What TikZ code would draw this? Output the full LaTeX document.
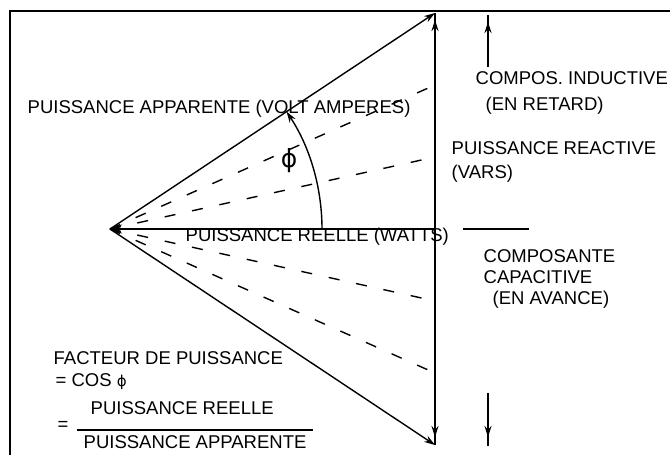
\documentclass[tikz,border=0pt]{standalone}
\usepackage{fontspec}
\setmainfont{Liberation Sans}
\newfontfamily\grk{DejaVu Sans}
\usetikzlibrary{positioning,arrows.meta}

\begin{document}
\begin{tikzpicture}[x=1pt, y=-1pt, line width=1.4pt,
  txt/.style={anchor=west, inner sep=0pt, text height=13.3pt, text depth=0pt,
    font=\fontsize{18.5}{21}\selectfont},
  ray/.style={line width=1.4pt, dash pattern=on 11pt off 17pt},
  tip/.style={-{Stealth[length=11pt,width=7pt]}}]
  \useasboundingbox (0,0) rectangle (670,455);
  \draw[line width=2.6pt] (10,455) -- (10,11) -- (670,11);

  \coordinate (O) at (110,229);
  \coordinate (T) at (435,13);
  \coordinate (B) at (435,445);
  \coordinate (H) at (435,229);
  \coordinate (Tt) at (435,20);
  \coordinate (Bt) at (435,437);

  % triangle des puissances
  \draw[tip] (O) -- (T);
  \draw[tip] (O) -- (B);
  \draw[{Stealth[length=12pt,width=9pt]}-] (O) -- (H);
  \draw (T) -- (B);
  \draw[tip] (H) -- (Tt);
  \draw[tip] (H) -- (Bt);
  \foreach \k in {1,2} {
    \coordinate (u\k) at (435,229-72*\k);
    \coordinate (d\k) at (435,229+72*\k);
    \draw[ray] (O) -- (u\k);
    \draw[ray] (O) -- (d\k);
  }
  \draw[tip] (O) ++(212,0) arc[start angle=0, end angle=-33.6, radius=212];
  \node[font=\grk\fontsize{25}{25}\selectfont] (phi) at (289,161) {ϕ};

  % composantes
  \coordinate (i1) at (488,15);
  \coordinate (i2) at (488,67);
  \coordinate (it) at (488,22);
  \coordinate (c1) at (488,393);
  \coordinate (c2) at (488,446);
  \coordinate (ct) at (488,437);
  \coordinate (s1) at (463,229);
  \coordinate (s2) at (529,229);
  \draw (i1) -- (i2);
  \draw[tip] (i2) -- (it);
  \draw (c1) -- (c2);
  \draw[tip] (c1) -- (ct);
  \draw (s1) -- (s2);

  \node[txt] (app) at (27,107) {PUISSANCE APPARENTE (VOLT AMPERES)};
  \node[txt] (ind) at (475,78) {COMPOS. INDUCTIVE};
  \node[txt] (ret) at (485,104) {(EN RETARD)};
  \node[txt] (reac) at (451,148) {PUISSANCE REACTIVE};
  \node[txt] (vars) [below=8.7pt of reac.south west, anchor=north west] {(VARS)};
  \node[txt] (reel) at (185,235) {PUISSANCE REELLE (WATTS)};
  \node[txt] (compo) at (483,256) {COMPOSANTE};
  \node[txt] (capa) [below=5.7pt of compo.south west, anchor=north west] {CAPACITIVE};
  \node[txt] (av) at (492,298) {(EN AVANCE)};

  % facteur de puissance
  \node[txt] (fact) at (53,358) {FACTEUR DE PUISSANCE};
  \node[txt] (cos) at (55,380) {= COS {\grk\fontsize{15}{15}\selectfont ϕ}};
  \node[txt] (num) at (90,408) {PUISSANCE REELLE};
  \node[txt] (eq) at (57,424) {=};
  \node[txt] (den) at (83,442) {PUISSANCE APPARENTE};
  \coordinate (f1) at (77,430);
  \coordinate (f2) at (313,430);
  \draw (f1) -- (f2);
\end{tikzpicture}
\end{document}
